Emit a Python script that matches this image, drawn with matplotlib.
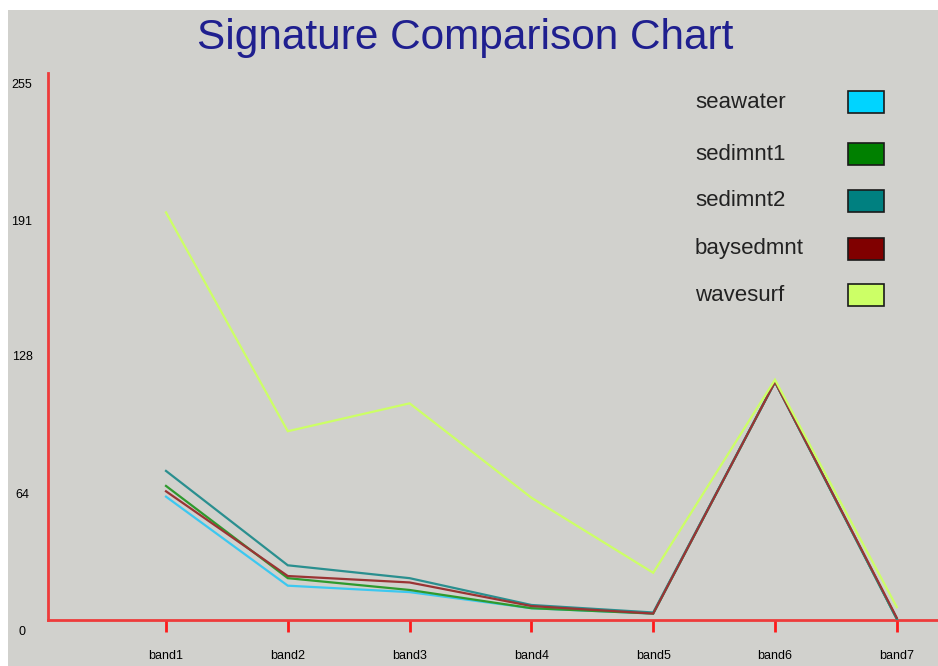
import matplotlib
matplotlib.use("Agg")
import matplotlib.pyplot as plt
from matplotlib.patches import Rectangle
from matplotlib import transforms

# Band signatures (digital numbers, 0-255)
bands = ["band1", "band2", "band3", "band4", "band5", "band6", "band7"]
seawater = [57.5, 16, 13, 5.5, 3, 111, 0.5]
sedimnt1 = [62.5, 19.5, 14, 5.5, 3, 111, 0.5]
sedimnt2 = [69.5, 25.5, 19.5, 7, 3.5, 111, 0.5]
baysedmnt = [60, 20.5, 17.5, 6.5, 3, 111, 1]
wavesurf = [190, 88, 101, 57, 22, 112, 6]

series_names = ["seawater", "sedimnt1", "sedimnt2", "baysedmnt", "wavesurf"]
series_values = [seawater, sedimnt1, sedimnt2, baysedmnt, wavesurf]
swatch_colors = ["#00d4ff", "#008000", "#008080", "#800000", "#ccff66"]
line_colors = ["#3cc8f0", "#2e9a2e", "#2a8f8f", "#9a3434", "#ccff66"]

y_ticks = [0, 64, 128, 191, 255]

W, H = 938, 666
DPI = 100
BG = "#d1d1cd"

fig = plt.figure(figsize=(W / DPI, H / DPI), dpi=DPI, facecolor="white")

# grey panel behind everything
fig.patches.append(Rectangle((8 / W, 0), (W - 8) / W, (H - 10) / H,
                             transform=fig.transFigure, facecolor=BG,
                             edgecolor="none", zorder=-5))

ax = fig.add_axes([48 / W, (H - 620) / H, (W - 48) / W, (620 - 73) / H])
ax.set_facecolor("none")
ax.set_zorder(1)

x = list(range(len(bands)))
for vals, col in zip(series_values, line_colors):
    ax.plot(x, vals, color=col, lw=1.6, solid_joinstyle="miter", zorder=3)

ax.set_ylim(0, 255)
step = 121.8
ax.set_xlim((48 - 166) / step, (W - 166) / step)

for s in ["top", "right"]:
    ax.spines[s].set_visible(False)
for s in ["left", "bottom"]:
    ax.spines[s].set_color("#ee3b3b")
    ax.spines[s].set_linewidth(2)

ax.set_xticks(x)
ax.set_xticklabels(bands, family="Liberation Sans", fontsize=9, color="black")
ax.tick_params(axis="x", direction="out", length=8.5, width=2, color="#ff1a1a", pad=13)

# y labels sit just below their value line
ax.set_yticks([])
ytrans = transforms.blended_transform_factory(fig.transFigure, ax.transData) + \
    transforms.ScaledTranslation(0, -12 / DPI, fig.dpi_scale_trans)
for v in y_ticks:
    ax.text(22 / W, v, str(v), transform=ytrans, ha="center", va="center",
            family="Liberation Sans", fontsize=9, color="black", clip_on=False)

fig.text(465 / W, 1 - 38 / H, "Signature Comparison Chart", ha="center", va="center",
         family="Liberation Sans", fontsize=30.5, color="#1f1f8f")

# legend: name on the left, colour swatch on the right
legend_y = [102, 154, 201, 249, 295]
for name, col, yp in zip(series_names, swatch_colors, legend_y):
    fig.text(695 / W, 1 - yp / H, name, ha="left", va="center",
             family="Liberation Sans", fontsize=16, color="#222222")
    fig.patches.append(Rectangle((848 / W, 1 - (yp + 11) / H), 36 / W, 22 / H,
                                 transform=fig.transFigure, facecolor=col,
                                 edgecolor="#1a1a1a", lw=1.2, zorder=2))

fig.savefig("out.png", dpi=DPI, facecolor="white")
